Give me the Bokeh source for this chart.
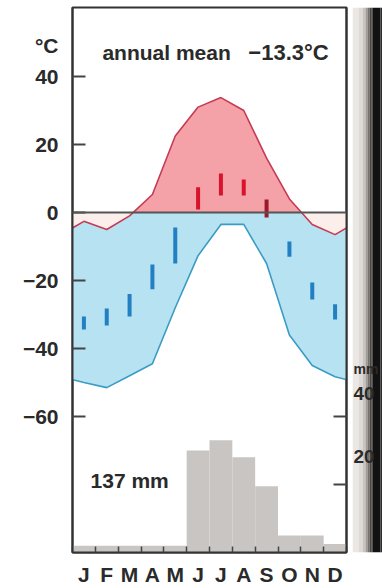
import numpy as np
from bokeh.plotting import figure
from bokeh.models import FixedTicker, LinearAxis, Range1d, Label, Span
from bokeh.layouts import row
from bokeh.embed import file_html
from bokeh.resources import INLINE
from bokeh.core.properties import value

# ---------------- data ----------------
months = ["J", "F", "M", "A", "M", "J", "J", "A", "S", "O", "N", "D"]
temp_upper = [-2.6, -5.0, -1.0, 5.3, 22.5, 31.0, 33.8, 30.0, 16.0, 4.0, -3.5, -6.5]
temp_lower = [-50.0, -51.5, -48.0, -44.5, -28.0, -12.7, -3.5, -3.5, -15.0, -36.0, -45.0, -48.3]
mean_min = [-34.4, -33.2, -30.6, -22.6, -15.0, 0.9, 5.0, 5.0, -1.5, -13.0, -25.6, -31.5]
mean_max = [-30.6, -28.2, -24.0, -15.3, -4.4, 7.4, 11.5, 9.7, 3.8, -8.5, -20.6, -27.0]
precip_mm = [2, 2, 2, 2, 2, 30, 33, 28, 19.5, 5, 5, 2.5]
temp_ticks = [-60, -40, -20, 0, 20, 40]
precip_ticks = [20, 40]
temp_unit = "\u00b0C"
precip_unit = "mm"
annual_mean_label = "annual mean"
annual_mean_value = "\u221213.3\u00b0C"
annual_precip_text = "137 mm"

# ---------------- styles / layout ----------------
FONT = "Liberation Sans"
TXT = "#2a2a2a"
PINK = "#f5a1a8"
PALE = "#fcefeb"
BLUE = "#b6e2f2"
RED_LINE = "#c53a55"
BLUE_LINE = "#3a9cc4"
BAR_GREY = "#c9c5c3"
AX = "#333333"

H = 588
TOP, BOTTOM = 7, 35
FRAME_H = H - TOP - BOTTOM
LEFT, FRAME_W, RIGHT = 72, 274, 6
MAIN_W = LEFT + FRAME_W + RIGHT
SIDE_W = 382 - MAIN_W

T_MIN, T_MAX = -100, 60.3
OFFSET = 100  # mm = temp + 100
UNIT_T_POS = 49.0
UNIT_MM_POS = 47.9

n = len(months)
centers = [i + 0.5 for i in range(n)]
xs = [-0.5] + centers + [n + 0.5]
up_w = [temp_upper[-1]] + temp_upper + [temp_upper[0]]
lo_w = [temp_lower[-1]] + temp_lower + [temp_lower[0]]

xf = np.linspace(-0.5, n + 0.5, 1301)
uf = np.interp(xf, xs, up_w)
lf = np.interp(xf, xs, lo_w)

p = figure(width=MAIN_W, height=H, x_range=Range1d(0, n), y_range=Range1d(T_MIN, T_MAX),
           output_backend="svg", toolbar_location=None,
           min_border_left=LEFT, min_border_right=RIGHT, min_border_top=TOP,
           min_border_bottom=BOTTOM)
p.extra_y_ranges = {"mm": Range1d(T_MIN + OFFSET, T_MAX + OFFSET)}
p.xgrid.visible = False
p.ygrid.visible = False
p.outline_line_color = AX
p.outline_line_width = 2
p.background_fill_color = "white"
p.border_fill_color = "white"

# precipitation bars
p.quad(left=list(range(n)), right=[i + 1 for i in range(n)], bottom=0, top=precip_mm,
       y_range_name="mm", fill_color=BAR_GREY, line_color=None)

# temperature areas
p.varea(x=xf, y1=0, y2=np.maximum(uf, 0), fill_color=PINK)
p.varea(x=xf, y1=np.minimum(uf, 0), y2=0, fill_color=PALE)
p.varea(x=xf, y1=lf, y2=np.minimum(uf, 0), fill_color=BLUE)
p.line(xs, up_w, line_color=RED_LINE, line_width=1.6)
p.line(xs, lo_w, line_color=BLUE_LINE, line_width=1.6)

p.add_layout(Span(location=0, dimension="width", line_color="#555555", line_width=2))

# mean range bars
cols = []
for a, b in zip(mean_min, mean_max):
    if a >= 0:
        cols.append("#d8142c")
    elif b > 0:
        cols.append("#9a1a2a")
    else:
        cols.append("#2280c2")
p.segment(x0=centers, y0=mean_min, x1=centers, y1=mean_max, line_color=cols,
          line_width=4, line_cap="butt")

def style_axis(ax, size="21px"):
    ax.major_tick_line_color = None
    ax.minor_tick_out = 0
    ax.minor_tick_line_color = "#444444"
    ax.axis_line_width = 2
    ax.axis_line_color = AX
    ax.major_label_text_font = FONT
    ax.major_label_text_font_style = "bold"
    ax.major_label_text_font_size = size
    ax.major_label_text_color = TXT

xa = p.xaxis[0]
xa.ticker = FixedTicker(ticks=centers, minor_ticks=list(range(n + 1)))
xa.major_label_overrides = {c: m for c, m in zip(centers, months)}
style_axis(xa)
xa.minor_tick_in = 6
xa.minor_tick_line_width = 1.5
xa.major_label_standoff = 4

ya = p.yaxis[0]
ya.ticker = FixedTicker(ticks=temp_ticks + [UNIT_T_POS], minor_ticks=temp_ticks)
ov = {t: (str(t) if t >= 0 else "\u2212" + str(-t)) for t in temp_ticks}
ov[UNIT_T_POS] = temp_unit
ya.major_label_overrides = ov
style_axis(ya)
ya.minor_tick_in = 13
ya.minor_tick_line_width = 2
ya.major_label_standoff = 8

# right axis: ticks only; its labels sit on the page-fold strip next to it
ra = LinearAxis(y_range_name="mm",
                ticker=FixedTicker(ticks=precip_ticks, minor_ticks=precip_ticks))
ra.major_label_overrides = {t: "" for t in precip_ticks}
style_axis(ra, "1px")
ra.minor_tick_in = 13
ra.minor_tick_line_width = 2
ra.major_label_standoff = 0
p.add_layout(ra, "right")

def lab(x, y, text, size):
    p.add_layout(Label(x=x, y=y, text=text, text_align="left", text_baseline="middle",
                       text_font=FONT, text_font_style="bold", text_font_size=size,
                       text_color=TXT))

lab(1.31, 47.1, annual_mean_label, "21px")
lab(7.7, 47.1, annual_mean_value, "22px")
lab(0.79, -78.9, annual_precip_text, "21px")

# ---------- page-fold strip holding the mm labels ----------
k = (T_MAX - T_MIN) / FRAME_H
s = figure(width=SIDE_W, height=H, x_range=Range1d(0, SIDE_W),
           y_range=Range1d(-BOTTOM * k, (T_MAX - T_MIN) + TOP * k),
           output_backend="svg", toolbar_location=None, x_axis_type=None, y_axis_type=None,
           min_border=0, outline_line_color=None)
s.xgrid.visible = False
s.ygrid.visible = False
shade_edges = [0, 6, 10, 13, 15, 17, 19, 20, 28, 30]
shade = ["#ebe7e4", "#dedad6", "#c9c4bf", "#a09b96", "#77726d", "#4a4643",
         "#2a2826", "#121212", "#2e2e2e"]
s.quad(left=shade_edges[:-1], right=shade_edges[1:], bottom=-BOTTOM * k,
       top=(T_MAX - T_MIN) + TOP * k, fill_color=shade, line_color=None)
s.text(x=[1] * len(precip_ticks), y=precip_ticks, text=[str(t) for t in precip_ticks],
       text_align="left", text_baseline="middle", text_font=value(FONT),
       text_font_style="bold", text_font_size="19px", text_color=TXT)
s.text(x=[1], y=[UNIT_MM_POS], text=[precip_unit],
       text_align="left", text_baseline="middle", text_font=value(FONT),
       text_font_style="bold", text_font_size="14px", text_color=TXT)

layout = row(p, s, spacing=0)
open("out.html", "w").write(file_html(layout, INLINE))
